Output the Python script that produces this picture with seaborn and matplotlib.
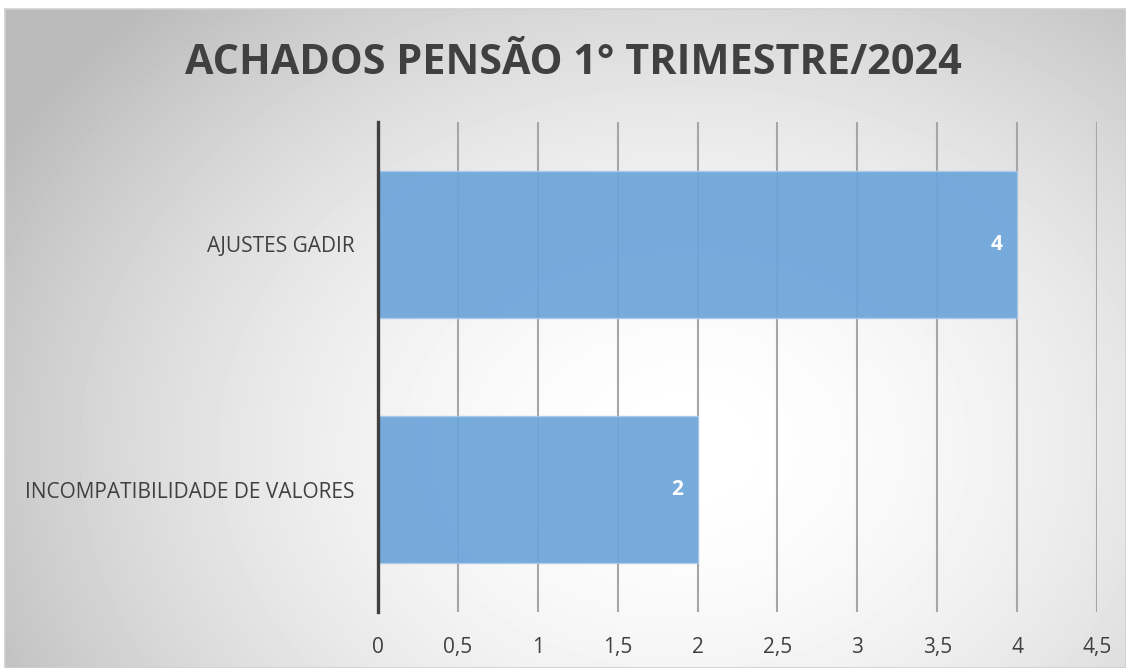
import numpy as np
import pandas as pd
import matplotlib
matplotlib.use("Agg")
import matplotlib.pyplot as plt
import seaborn as sns

# chart data
categorias = ["AJUSTES GADIR", "INCOMPATIBILIDADE DE VALORES"]
valores = [4, 2]
ticks_x = [0, 0.5, 1, 1.5, 2, 2.5, 3, 3.5, 4, 4.5]
titulo = "ACHADOS PENSÃO 1° TRIMESTRE/2024"

df = pd.DataFrame({"categoria": categorias, "valor": valores})

sns.set_style("white")
plt.rcParams["font.family"] = ["Open Sans", "DejaVu Sans"]

W, H = 1126, 668
fig = plt.figure(figsize=(W / 100, H / 100), dpi=100)
fig.patch.set_facecolor("white")

# radial gradient background of the chart area
bg = fig.add_axes([5 / W, 0, (W - 5) / W, (H - 9) / H], zorder=-1)
yy, xx = np.mgrid[0:H - 9, 0:W - 5]
cx, cy = 680, 440
d = np.sqrt(((xx - cx) / 720.0) ** 2 + ((yy - cy) / 560.0) ** 2)
grad = 1 - 0.23 * np.clip(d, 0, 1.1) ** 1.8
bg.imshow(grad, cmap="gray", vmin=0, vmax=1, aspect="auto", interpolation="bilinear")
bg.set_xticks([])
bg.set_yticks([])
for s in bg.spines.values():
    s.set_color("#D0D0D0")
    s.set_linewidth(1.2)

ax = fig.add_axes([378 / W, 1 - 612 / H, (1097 - 378) / W, (612 - 122) / H])
ax.set_facecolor("none")

sns.barplot(data=df, y="categoria", x="valor", orient="h", order=categorias,
            color="#6CA5DA", alpha=0.93, saturation=1, width=0.6, ax=ax,
            edgecolor="#A9CBEA", linewidth=1)

ax.set_xlim(0, 4.5)
ax.set_ylim(1.5, -0.5)
ax.set_xticks(ticks_x)
ax.set_xticklabels([str(t).replace(".", ",") if t % 1 else str(int(t)) for t in ticks_x])
ax.set_axisbelow(True)
ax.grid(axis="x", color="#A6A6A6", linewidth=1.5)
ax.grid(axis="y", visible=False)
for name, s in ax.spines.items():
    s.set_visible(name == "left")
ax.spines["left"].set_color("#404040")
ax.spines["left"].set_linewidth(2.4)
ax.tick_params(axis="both", length=0, labelsize=15, labelcolor="#404040")
ax.tick_params(axis="x", pad=18)
ax.tick_params(axis="y", pad=17)
ax.set_xlabel("")
ax.set_ylabel("")

for i, v in enumerate(valores):
    ax.text(v - 0.09, i, str(v), ha="right", va="center", color="white",
            fontsize=15, fontweight="bold")

fig.text(573 / W, 1 - 64 / H, titulo, ha="center", va="center",
         fontsize=29.8, fontweight="bold", color="#404040")

fig.savefig("out.png", dpi=100)
